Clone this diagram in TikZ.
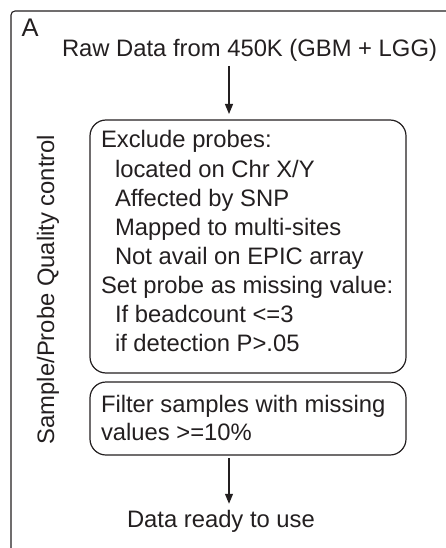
\documentclass[tikz,border=0pt]{standalone}
\usepackage{fontspec}
\setmainfont{Liberation Sans}
\usetikzlibrary{arrows.meta}
\definecolor{ink}{HTML}{231F20}
\begin{document}
\begin{tikzpicture}[x=1pt,y=-1pt,
  every node/.style={inner sep=0pt, outer sep=0pt, text=ink,
    font=\fontsize{23.8}{29.1}\selectfont},
  txt/.style={anchor=base west},
  stepbox/.style={draw=ink, line width=1.2pt, rounded corners=16pt},
  arr/.style={draw=ink, line width=1.1pt, -{Triangle[length=10pt,width=8pt]}},
  frame/.style={draw=ink, line width=1.1pt, rounded corners=4pt}]
\useasboundingbox (0,0) rectangle (446,548);
\clip (0,0) rectangle (446,548);

% panel frame, open to the right and bottom
\draw[frame] (11,560) -- (11,11) -- (470,11);

\node[txt, font=\fontsize{25.5}{30}\selectfont] (lblA) at (21.5,37) {A};
\node[txt] (raw) at (62,57) {Raw Data from 450K (GBM + LGG)};

% side label
\node[rotate=90, anchor=base] (side) at (54,289.5) {Sample/Probe Quality control};

% probe filtering box
\node[stepbox, minimum width=316pt, minimum height=253pt] (box1) at (248,246.5) {};
\node[txt] (l1) at (101,148) {Exclude probes:};
\node[txt] (l2) at (115,177.1) {located on Chr X/Y};
\node[txt] (l3) at (115,206.2) {Affected by SNP};
\node[txt] (l4) at (115,235.3) {Mapped to multi-sites};
\node[txt] (l5) at (115,264.4) {Not avail on EPIC array};
\node[txt] (l6) at (101,293.5) {Set probe as missing value:};
\node[txt] (l7) at (115,322.6) {If beadcount <=3};
\node[txt] (l8) at (115,351.7) {if detection P>.05};

% sample filtering box
\node[stepbox, minimum width=316pt, minimum height=73pt] (box2) at (248,418.5) {};
\node[txt] (m1) at (101,412) {Filter samples with missing};
\node[txt] (m2) at (101,440) {values >=10\%};

\node[txt] (ready) at (127,527) {Data ready to use};

% connectors
\coordinate (s1) at (229,66);
\coordinate (s2) at (229,458);
\draw[arr, shorten >=6pt] (s1) -- (s1 |- box1.north);
\draw[arr, shorten >=6pt] (s2) -- (s2 |- ready.north);
\end{tikzpicture}
\end{document}
